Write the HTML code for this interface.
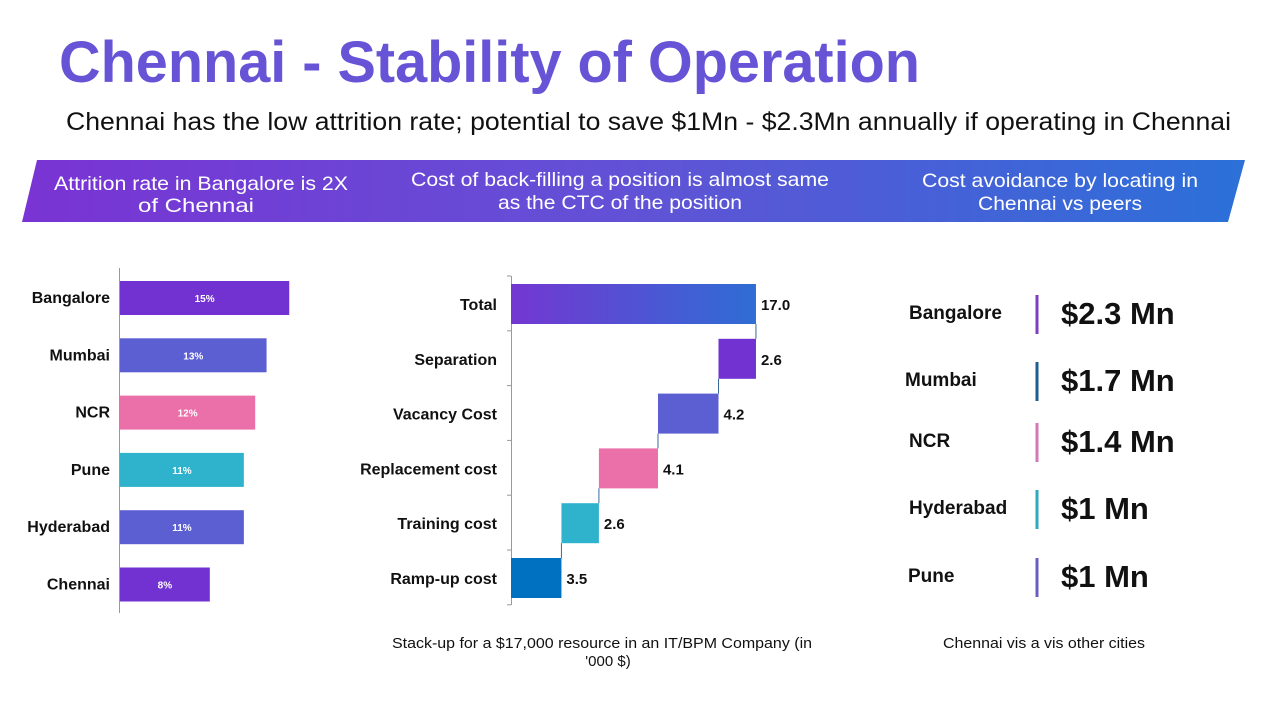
<!DOCTYPE html>
<html><head><meta charset="utf-8">
<style>
body{margin:0;width:1280px;height:720px;background:#fff;overflow:hidden;font-family:"Liberation Sans",sans-serif}
svg text{font-family:"Liberation Sans",sans-serif}
</style></head>
<body>
<svg width="1280" height="720" xmlns="http://www.w3.org/2000/svg">
<defs>
<linearGradient id="bg" x1="0" x2="1" y1="0" y2="0"><stop offset="0" stop-color="#7a33d4"/><stop offset="0.5" stop-color="#6152d6"/><stop offset="1" stop-color="#2b70d8"/></linearGradient>
<linearGradient id="tg" x1="0" x2="1" y1="0" y2="0"><stop offset="0" stop-color="#7437d2"/><stop offset="1" stop-color="#2f6dd4"/></linearGradient>
</defs>
<text x="59" y="82" font-size="58" font-weight="bold" fill="#6653d6" textLength="861" lengthAdjust="spacingAndGlyphs">Chennai - Stability of Operation</text>
<text x="66" y="130" font-size="25" fill="#111" textLength="1165" lengthAdjust="spacingAndGlyphs">Chennai has the low attrition rate; potential to save $1Mn - $2.3Mn annually if operating in Chennai</text>
<polygon points="37,160 1245,160 1228,222 22,222" fill="url(#bg)"/>
<g fill="#fff" font-size="19.5" text-anchor="middle">
<text x="201" y="190" textLength="294" lengthAdjust="spacingAndGlyphs">Attrition rate in Bangalore is 2X</text><text x="196" y="212" textLength="116" lengthAdjust="spacingAndGlyphs">of Chennai</text>
<text x="620" y="186" textLength="418" lengthAdjust="spacingAndGlyphs">Cost of back-filling a position is almost same</text><text x="620" y="209" textLength="244" lengthAdjust="spacingAndGlyphs">as the CTC of the position</text>
<text x="1060" y="187" textLength="276" lengthAdjust="spacingAndGlyphs">Cost avoidance by locating in</text><text x="1060" y="210" textLength="164" lengthAdjust="spacingAndGlyphs">Chennai vs peers</text>
</g>
<g id="left"></g>
<g id="mid"></g>
<g id="right"></g>
<g font-size="15" fill="#111" text-anchor="middle">
<text x="602" y="648" textLength="420" lengthAdjust="spacingAndGlyphs">Stack-up for a $17,000 resource in an IT/BPM Company (in</text>
<text x="608" y="666">'000 $)</text>
<text x="1044" y="648" textLength="202" lengthAdjust="spacingAndGlyphs">Chennai vis a vis other cities</text>
</g>
</svg>
<script>
const NS="http://www.w3.org/2000/svg";
function mk(p,t,a,txt){const e=document.createElementNS(NS,t);for(const k in a)e.setAttribute(k,a[k]);if(txt!=null)e.textContent=txt;p.appendChild(e);return e;}
// Left chart data
const cities=["Bangalore","Mumbai","NCR","Pune","Hyderabad","Chennai"];
const attrition=[15,13,12,11,11,8];
const cityColors=["#7232d2","#5b5fd2","#eb6fa8","#2fb3cc","#5b5fd2","#7232d2"];
const L=document.getElementById('left');
const lx=v=>119+v*11.35, ly=i=>298+i*57.3;
let ax=mk(L,'line',{x1:119.5,x2:119.5,y1:268,y2:613,stroke:'#999'});

cities.forEach((c,i)=>{
 const r=mk(L,'rect',{x:120,y:ly(i)-17,width:lx(attrition[i])-120,height:34,fill:cityColors[i]});
 
 const t=mk(L,'text',{x:110,y:ly(i)+5,'text-anchor':'end','font-size':16,'font-weight':'bold',fill:'#111'},c);
 
 const v=mk(L,'text',{x:(120+lx(attrition[i]))/2,y:ly(i)+4,'text-anchor':'middle','font-size':10,'font-weight':'bold',fill:'#fff'},attrition[i]+'%');
 
});
// Waterfall data
const steps=["Total","Separation","Vacancy Cost","Replacement cost","Training cost","Ramp-up cost"];
const stepVals=[17.0,2.6,4.2,4.1,2.6,3.5];
const stepColors=["url(#tg)","#7232d2","#5b5fd2","#eb6fa8","#2fb3cc","#0070c0"];
const M=document.getElementById('mid');
const wx=v=>511+v*14.41, wy=i=>304+i*54.8;
let ax2=mk(M,'line',{x1:511.5,x2:511.5,y1:276,y2:605,stroke:'#999'});

for(let k=0;k<=6;k++){const tk=mk(M,'line',{x1:507,x2:511,y1:276+k*54.8,y2:276+k*54.8,stroke:'#999'});}
let cum=0;const starts=[];
for(let i=steps.length-1;i>=1;i--){starts[i]=cum;cum+=stepVals[i];}
starts[0]=0;
steps.forEach((s,i)=>{
 const x0=wx(starts[i]),x1=wx(starts[i]+stepVals[i]);
 const r=mk(M,'rect',{x:x0,y:wy(i)-20,width:x1-x0,height:40,fill:stepColors[i]});
 
 if(i>0){const c=mk(M,'line',{x1:x1,x2:x1,y1:wy(i-1)+20,y2:wy(i)-20,stroke:'#3a6a9a'});}
 const t=mk(M,'text',{x:497,y:wy(i)+6,'text-anchor':'end','font-size':16,'font-weight':'bold',fill:'#111'},s);
 
 const v=mk(M,'text',{x:x1+5,y:wy(i)+6,'font-size':15,'font-weight':'bold',fill:'#111'},stepVals[i].toFixed(1));
 
});
// Right list
const rCities=["Bangalore","Mumbai","NCR","Hyderabad","Pune"];
const savings=["$2.3 Mn","$1.7 Mn","$1.4 Mn","$1 Mn","$1 Mn"];
const rColors=["#7b3fbf","#1f5f8f","#d27ab5","#2fa8c0","#6a5fc0"];
const rY=[314,381,442,509,577];const rLX=[909,905,909,909,908];
const R=document.getElementById('right');
rCities.forEach((c,i)=>{
 const t=mk(R,'text',{x:rLX[i],y:rY[i]+5,'font-size':19,'font-weight':'bold',fill:'#111'},c);
 
 const l=mk(R,'line',{x1:1037,x2:1037,y1:rY[i]-19,y2:rY[i]+20,stroke:rColors[i],'stroke-width':3});
 
 const v=mk(R,'text',{x:1061,y:rY[i]+10,'font-size':31,'font-weight':'bold',fill:'#111'},savings[i]);
 
});
</script>
</body></html>
